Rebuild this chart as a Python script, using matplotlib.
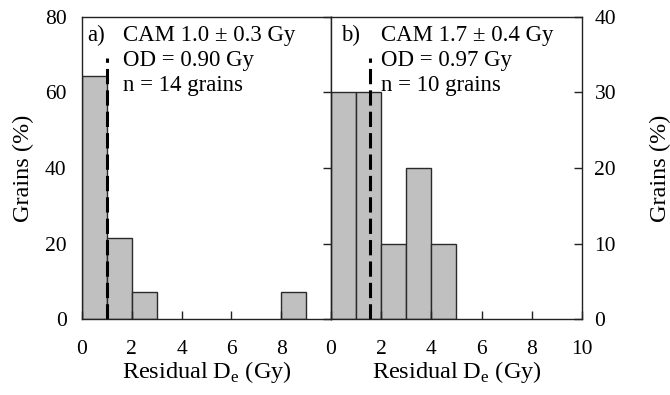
import matplotlib.pyplot as plt

plt.rcParams['font.family'] = ['Liberation Serif', 'DejaVu Serif']
plt.rcParams['mathtext.fontset'] = 'custom'
plt.rcParams['mathtext.rm'] = 'Liberation Serif'

# panel a) residual De histogram (bin left edges, % of grains)
bins_a = [0, 1, 2, 8]
pct_a = [64.3, 21.4, 7.1, 7.1]
cam_a = 1.0
cam_a_top = 69
text_a = ["CAM 1.0 \u00b1 0.3 Gy", "OD = 0.90 Gy", "n = 14 grains"]

# panel b)
bins_b = [0, 1, 2, 3, 4]
pct_b = [30, 30, 10, 20, 10]
cam_b = 1.55
cam_b_top = 34.5
text_b = ["CAM 1.7 \u00b1 0.4 Gy", "OD = 0.97 Gy", "n = 10 grains"]

xticks = [0, 2, 4, 6, 8]
xticks_b = [0, 2, 4, 6, 8, 10]
yticks_a = [0, 20, 40, 60, 80]
yticks_b = [0, 10, 20, 30, 40]

fig = plt.figure(figsize=(6.7, 3.95), dpi=100)
ax1 = fig.add_axes([0.1224, 0.1916, 0.3716, 0.766])
ax2 = fig.add_axes([0.494, 0.1916, 0.3746, 0.766])

bar_kw = dict(width=1, align='edge', color='#c0c0c0', edgecolor='#2a2a2a', linewidth=1)
ax1.bar(bins_a, pct_a, **bar_kw)
ax2.bar(bins_b, pct_b, **bar_kw)

ax1.plot([cam_a, cam_a], [0, cam_a_top], color='black', lw=2.2, dashes=(5, 2))
ax2.plot([cam_b, cam_b], [0, cam_b_top], color='black', lw=2.2, dashes=(5, 2))

ax1.set_xlim(0, 10)
ax1.set_ylim(0, 80)
ax2.set_xlim(0, 10)
ax2.set_ylim(0, 40)

for ax in (ax1, ax2):
    for s in ax.spines.values():
        s.set_linewidth(1)
        s.set_color('#222222')
    ax.tick_params(axis='both', direction='in', length=6, width=1, labelsize=15.5,
                   color='#222222', pad=15)
    ax.set_xlabel("Residual D$_\\mathrm{e}$ (Gy)", fontsize=17.5, labelpad=0)

ax1.set_xticks(xticks)
ax1.set_yticks(yticks_a)
ax1.tick_params(axis='y', left=False, right=True, labelleft=True, pad=11)
ax1.set_ylabel("Grains (%)", fontsize=17.5, labelpad=8)

ax2.set_xticks(xticks_b)
ax2.set_yticks(yticks_b)
ax2.tick_params(axis='y', left=False, right=True, labelleft=False, labelright=True, pad=9)
ax2.yaxis.set_label_position('right')
ax2.set_ylabel("Grains (%)", fontsize=17.5, labelpad=24)

# tag x, text x (axes fraction) for each panel
for ax, tag, lines, tx, lx in ((ax1, "a)", text_a, 0.022, 0.165),
                               (ax2, "b)", text_b, 0.04, 0.2)):
    ax.text(tx, 0.972, tag, transform=ax.transAxes, fontsize=16.5, va='top', ha='left')
    for i, line in enumerate(lines):
        ax.text(lx, 0.972 - i * 0.083, line, transform=ax.transAxes,
                fontsize=16.5, va='top', ha='left')

fig.savefig("out.png", dpi=100)
